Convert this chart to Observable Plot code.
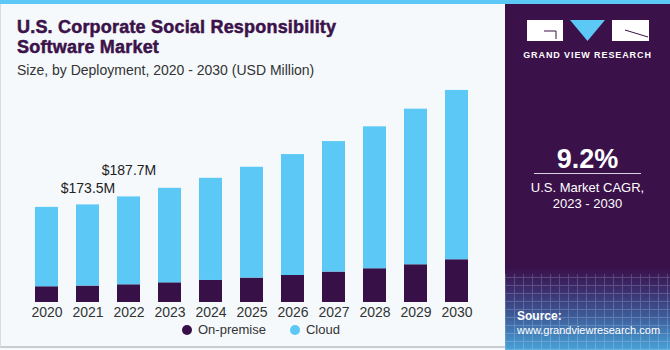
<!DOCTYPE html>
<html>
<head>
<meta charset="utf-8">
<script src="https://cdn.jsdelivr.net/npm/d3@7"></script>
<script src="https://cdn.jsdelivr.net/npm/@observablehq/plot@0.6"></script>
<style>
  html, body { margin: 0; padding: 0; }
  body { width: 670px; height: 350px; overflow: hidden; font-family: "Liberation Sans", Arial, sans-serif; }
  #wrap { position: relative; width: 670px; height: 350px; background: #f5f9fc; }
  #topbar { position: absolute; left: 0; top: 0; width: 670px; height: 4px; background: #5bc8f5; }
  #left { position: absolute; left: 0; top: 4px; width: 505px; height: 344px; border-left: 1px solid #d8dde2; border-bottom: 2px solid #c9ccd0; box-sizing: border-box; }
  #title { position: absolute; left: 17px; top: 17px; font-family: "Liberation Sans", Arial, sans-serif; font-weight: 900; font-size: 18px; line-height: 20px; color: #3b1249; letter-spacing: 0.2px; -webkit-text-stroke: 0.5px #3b1249; }
  #subtitle { position: absolute; left: 17px; top: 62px; font-size: 14px; color: #333; }
  #chart { position: absolute; left: 0; top: 60px; }
  #legend { position: absolute; left: 182px; top: 322px; font-size: 13px; color: #333; display: flex; gap: 24px; }
  #legend span.item { display: flex; align-items: center; gap: 6px; }
  #legend i { display: inline-block; width: 10px; height: 10px; border-radius: 50%; }
  #right { position: absolute; left: 505px; top: 4px; width: 165px; height: 346px; overflow: hidden;
    background: linear-gradient(to bottom, #3a1149 0%, #3a1149 76%, #3b2a6a 82%, #3d5a98 90%, #48a2d8 100%); }
  #grid { position: absolute; left: 0; top: 270px; width: 165px; height: 76px; opacity: 0.18;
    background-image: repeating-linear-gradient(90deg, #fff 0 1px, transparent 1px 9px), repeating-linear-gradient(0deg, #fff 0 1px, transparent 1px 8px); }
  #logo { position: absolute; left: 22px; top: 16px; width: 122px; height: 24px; }
  #logotext { position: absolute; left: 0; width: 165px; top: 46px; text-align: center; color: #fff; font-size: 9px; font-weight: bold; letter-spacing: 0.9px; }
  #cagr { position: absolute; left: 0; width: 165px; top: 140px; text-align: center; color: #fff; font-size: 27px; font-weight: bold; }
  #rule { position: absolute; left: 29px; width: 107px; top: 169px; height: 1px; background: #d9d0e0; }
  #cagrlbl { position: absolute; left: 0; width: 165px; top: 176px; text-align: center; color: #fff; font-size: 13px; line-height: 16px; }
  #source { position: absolute; left: 12px; top: 305px; color: #fff; font-size: 11px; line-height: 14px; }
</style>
</head>
<body>
<div id="wrap">
  <div id="topbar"></div>
  <div id="left"></div>
  <div id="title">U.S. Corporate Social Responsibility<br>Software Market</div>
  <div id="subtitle">Size, by Deployment, 2020 - 2030 (USD Million)</div>
  <div id="chart"></div>
  <div id="legend"></div>
  <div id="right">
    <div id="grid"></div>
    <svg id="logo" viewBox="0 0 122 24">
      <rect x="0" y="0" width="36" height="21" fill="#fff"/>
      <path d="M17 11 H29 V19" stroke="#3a1149" stroke-width="1" fill="none"/>
      <polygon points="43,0 78,0 60.5,21" fill="#5bc8f5"/>
      <rect x="85" y="0" width="37" height="21" fill="#fff"/>
      <path d="M98 10 L121 17" stroke="#3a1149" stroke-width="1" fill="none"/>
    </svg>
    <div id="logotext">GRAND VIEW RESEARCH</div>
    <div id="cagr">9.2%</div>
    <div id="rule"></div>
    <div id="cagrlbl">U.S. Market CAGR,<br>2023 - 2030</div>
    <div id="source"><b style="font-size:12px">Source:</b><br>www.grandviewresearch.com</div>
  </div>
</div>
<script>
const years = ["2020","2021","2022","2023","2024","2025","2026","2027","2028","2029","2030"];
const onPremise = [28.0, 29.2, 31.5, 35.0, 39.2, 43.4, 48.0, 54.1, 60.0, 67.1, 76.0];
const cloud = [141.1, 144.3, 156.2, 168.0, 181.6, 197.0, 215.0, 232.0, 252.3, 276.6, 301.0];
const segments = ["On-premise", "Cloud"];
const colors = ["#371047", "#5bc8f5"];
const labelYears = ["2021", "2022"];
const labelTexts = ["$173.5M", "$187.7M"];

const rows = [];
years.forEach((y, i) => {
  rows.push({year: y, segment: segments[0], value: onPremise[i]});
  rows.push({year: y, segment: segments[1], value: cloud[i]});
});
const totals = years.map((y, i) => ({year: y, total: onPremise[i] + cloud[i]}));
const lab = labelYears.map((y, i) => ({year: y, text: labelTexts[i], total: totals[years.indexOf(y)].total}));

const plot = Plot.plot({
  width: 505,
  height: 262,
  marginLeft: 12,
  marginRight: 13,
  marginTop: 17,
  marginBottom: 20,
  style: {background: "transparent", fontFamily: "Liberation Sans, Arial, sans-serif"},
  x: {domain: years, padding: 0.43, label: null, tickSize: 0, tickPadding: 4},
  y: {domain: [0, 400], axis: null},
  color: {domain: segments, range: colors},
  marks: [
    Plot.barY(rows, Plot.stackY({x: "year", y: "value", fill: "segment", order: segments})),
    Plot.text(lab.slice(0, 1), {x: "year", y: "total", text: "text", dy: -16, fontSize: 14, fill: "#222"}),
    Plot.text(lab.slice(1, 2), {x: "year", y: "total", text: "text", dy: -26, fontSize: 14, fill: "#222"}),
    Plot.axisX({tickSize: 0, tickPadding: 5, fontSize: 14, fill: "#333", label: null})
  ]
});
document.getElementById("chart").appendChild(plot);

const legend = document.getElementById("legend");
segments.forEach((s, i) => {
  const it = document.createElement("span");
  it.className = "item";
  it.innerHTML = `<i style="background:${colors[i]}"></i>${s}`;
  legend.appendChild(it);
});
</script>
</body>
</html>
